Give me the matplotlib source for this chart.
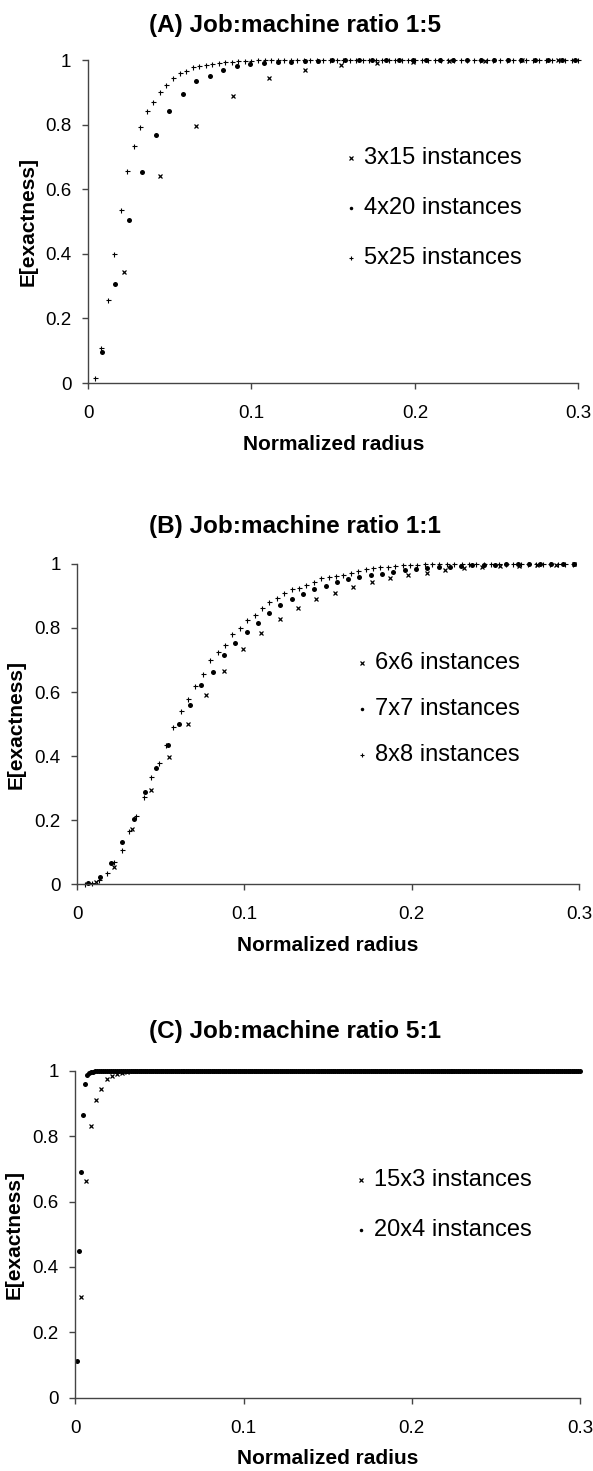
import numpy as np
import matplotlib
matplotlib.use("Agg")
import matplotlib.pyplot as plt
from matplotlib.lines import Line2D

plt.rcParams['font.family'] = ['Liberation Sans', 'DejaVu Sans']

# ---- data ----
# (A) Job:machine ratio 1:5
step_a_3x15 = 0.0221
y_a_3x15 = [0.343, 0.641, 0.796, 0.889, 0.943, 0.969, 0.984, 0.990, 0.994,
            0.996, 0.998, 0.999, 1.0]
step_a_4x20 = 0.00828
y_a_4x20 = [0.097, 0.308, 0.506, 0.654, 0.768, 0.843, 0.896, 0.934, 0.952,
            0.970, 0.981, 0.988, 0.991, 0.993, 0.995, 0.997, 0.998, 0.999] + [1.0] * 18
step_a_5x25 = 0.004
y_a_5x25 = [0.015, 0.11, 0.257, 0.401, 0.535, 0.656, 0.735, 0.793, 0.843,
            0.871, 0.900, 0.923, 0.943, 0.959, 0.966, 0.977, 0.981, 0.985,
            0.988, 0.991, 0.993, 0.995, 0.996, 0.997, 0.998, 0.999] + [1.0] * 49

# (B) Job:machine ratio 1:1
step_b_6x6 = 0.011
y_b_6x6 = [0.005, 0.054, 0.171, 0.294, 0.397, 0.499, 0.590, 0.667, 0.734,
           0.784, 0.827, 0.863, 0.891, 0.910, 0.927, 0.943, 0.955, 0.965,
           0.973, 0.980, 0.986, 0.990, 0.993, 0.995, 0.997, 0.998, 1.0]
step_b_7x7 = 0.00675
y_b_7x7 = [0.002, 0.021, 0.065, 0.132, 0.204, 0.287, 0.362, 0.434, 0.499,
           0.558, 0.622, 0.662, 0.715, 0.754, 0.788, 0.817, 0.846, 0.873,
           0.890, 0.906, 0.921, 0.930, 0.944, 0.952, 0.959, 0.965, 0.970,
           0.975, 0.980, 0.984, 0.987, 0.990, 0.992, 0.994, 0.996, 0.997,
           0.998, 0.999] + [1.0] * 6
step_b_8x8 = 0.00442
y_b_8x8 = [0.0, 0.004, 0.014, 0.035, 0.069, 0.108, 0.167, 0.212, 0.272,
           0.333, 0.377, 0.435, 0.491, 0.540, 0.579, 0.619, 0.657, 0.700,
           0.726, 0.748, 0.782, 0.799, 0.826, 0.842, 0.863, 0.880, 0.895,
           0.908, 0.923, 0.926, 0.934, 0.943, 0.957, 0.960, 0.964, 0.967,
           0.972, 0.979, 0.983, 0.987, 0.990, 0.992, 0.994, 0.996, 0.997,
           0.998, 0.999] + [1.0] * 20

# (C) Job:machine ratio 5:1
step_c_15x3 = 0.0031
y_c_15x3 = [0.307, 0.663, 0.832, 0.909, 0.945, 0.976, 0.984, 0.990, 0.994,
            0.996, 0.998, 0.999] + [1.0] * 84
step_c_20x4 = 0.00118
y_c_20x4 = [0.112, 0.449, 0.689, 0.866, 0.958, 0.986, 0.992, 0.995, 0.997,
            0.998, 0.999] + [1.0] * 243

x_ticks = [0, 0.1, 0.2, 0.3]
x_tick_labels = ["0", "0.1", "0.2", "0.3"]
y_ticks = [0, 0.2, 0.4, 0.6, 0.8, 1.0]
y_tick_labels = ["0", "0.2", "0.4", "0.6", "0.8", "1"]

titles = ["(A) Job:machine ratio 1:5", "(B) Job:machine ratio 1:1",
          "(C) Job:machine ratio 5:1"]

# marker styles per series kind
styles = {
    'x': dict(marker='x', ms=3.2, mew=0.9),
    'o': dict(marker='o', ms=3.6, mew=0),
    '+': dict(marker='+', ms=3.6, mew=0.8),
}

panels = [
    dict(rect=[0.1484, 0.7396, 0.8271, 0.2196], title_y=0.983, ylab_x=0.047,
         series=[('x', step_a_3x15, y_a_3x15, "3x15 instances"),
                 ('o', step_a_4x20, y_a_4x20, "4x20 instances"),
                 ('+', step_a_5x25, y_a_5x25, "5x25 instances")],
         leg=(351, 158), leg_space=50),
    dict(rect=[0.1302, 0.3990, 0.8462, 0.2176], title_y=0.642, ylab_x=0.027,
         series=[('x', step_b_6x6, y_b_6x6, "6x6 instances"),
                 ('o', step_b_7x7, y_b_7x7, "7x7 instances"),
                 ('+', step_b_8x8, y_b_8x8, "8x8 instances")],
         leg=(362, 663), leg_space=46),
    dict(rect=[0.1270, 0.0498, 0.8511, 0.2223], title_y=0.2986, ylab_x=0.024,
         series=[('x', step_c_15x3, y_c_15x3, "15x3 instances"),
                 ('o', step_c_20x4, y_c_20x4, "20x4 instances")],
         leg=(361, 1180), leg_space=50),
]

W, H = 593, 1471
fig = plt.figure(figsize=(W / 100, H / 100), dpi=100)
axis_color = '#444444'

for p, title in zip(panels, titles):
    ax = fig.add_axes(p['rect'])
    for kind, step, ys, label in p['series']:
        xs = step * np.arange(1, len(ys) + 1)
        ax.plot(xs, ys, linestyle='none', color='black', clip_on=False,
                **styles[kind])
    ax.set_xlim(0, 0.3)
    ax.set_ylim(0, 1)
    ax.set_xticks(x_ticks)
    ax.set_xticklabels(x_tick_labels)
    ax.set_yticks(y_ticks)
    ax.set_yticklabels(y_tick_labels)
    for s in ['top', 'right']:
        ax.spines[s].set_visible(False)
    for s in ['left', 'bottom']:
        ax.spines[s].set_color(axis_color)
        ax.spines[s].set_linewidth(1.0)
    ax.tick_params(axis='both', direction='out', length=4, width=1.0,
                   color=axis_color, labelsize=13.5)
    ax.tick_params(axis='x', pad=12)
    ax.tick_params(axis='y', pad=8)
    ax.set_xlabel("Normalized radius", fontsize=15, fontweight='bold',
                  labelpad=9)
    fig.text(p['ylab_x'], p['rect'][1] + p['rect'][3] / 2, "E[exactness]",
             rotation=90, ha='center', va='center', fontsize=15,
             fontweight='bold')
    fig.text(0.497, p['title_y'], title, ha='center', va='center',
             fontsize=17.5, fontweight='bold')

    # legend entries (marker + text), Excel-like
    lx, ly = p['leg']
    for i, (kind, step, ys, label) in enumerate(p['series']):
        yy = 1 - (ly + i * p['leg_space']) / H
        st = dict(styles[kind])
        st['ms'] = st['ms'] * 0.7
        fig.add_artist(Line2D([lx / W], [yy], linestyle='none', color='black',
                              **st))
        fig.text((lx + 13) / W, yy, label, ha='left', va='center',
                 fontsize=17)

fig.savefig("out.png", dpi=100)
